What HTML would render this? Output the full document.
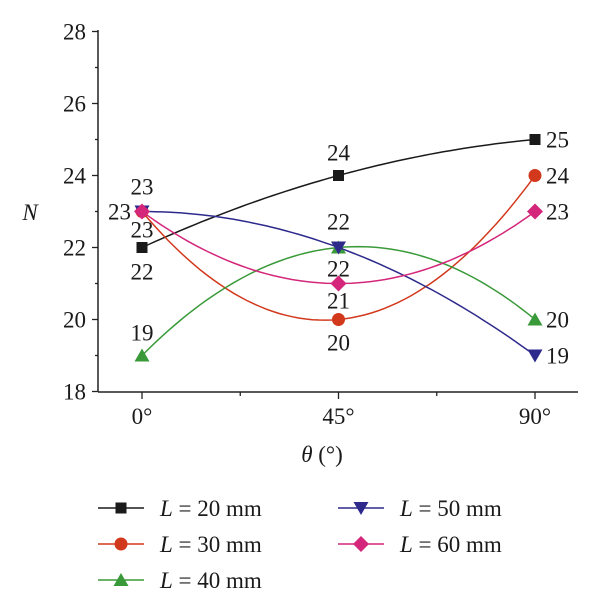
<!DOCTYPE html>
<html><head><meta charset="utf-8"><style>body{margin:0;background:#fff}svg{display:block}text{font-family:"Liberation Serif",serif;fill:#1a1a1a}</style></head>
<body>
<svg id="c" width="600" height="610"></svg>
<script>
const categories=[0,45,90];
const catLabels=["0°","45°","90°"];
const yTicks=[18,20,22,24,26,28];
const s20=[22,24,25];
const s30=[23,20,24];
const s40=[19,22,20];
const s50=[23,22,19];
const s60=[23,21,23];
const seriesNames=["L = 20 mm","L = 30 mm","L = 40 mm","L = 50 mm","L = 60 mm"];
const NS="http://www.w3.org/2000/svg";
const svg=document.getElementById('c');
function X(v){return 142+(v-0)*(535-142)/90;}
function Y(v){return 391.5-(v-18)*36;}
function el(t,a,p){const e=document.createElementNS(NS,t);for(const k in a)e.setAttribute(k,a[k]);(p||svg).appendChild(e);return e;}
let ax=el('line',{x1:98,y1:30,x2:98,y2:392,stroke:'#222','stroke-width':1.5});


let bx=el('line',{x1:98,y1:392,x2:578,y2:392,stroke:'#222','stroke-width':1.5});


for(let v=18;v<=28;v++){const maj=v%2===0;el('line',{x1:98,y1:Y(v),x2:maj?92:95,y2:Y(v),stroke:'#222','stroke-width':1.3});}
yTicks.forEach(v=>{const t=el('text',{x:86,y:Y(v)+8,'font-size':23,'text-anchor':'end'});t.textContent=v;

});
[0,22.5,45,67.5,90].forEach((v,i)=>{el('line',{x1:X(v),y1:392,x2:X(v),y2:i%2?396:399,stroke:'#222','stroke-width':1.3});});
categories.forEach((v,i)=>{const t=el('text',{x:X(v),y:424,'font-size':23,'text-anchor':'middle'});t.textContent=catLabels[i];

});
let yt=el('text',{x:30,y:220,'font-size':23,'font-style':'italic','text-anchor':'middle'});yt.textContent='N';


let xt=el('text',{x:322,y:462,'font-size':23,'text-anchor':'middle'});xt.innerHTML='<tspan font-style="italic">θ</tspan> (°)';


function marker(g,type,x,y,c){
 if(type==='sq')el('rect',{x:x-5.5,y:y-5.5,width:11,height:11,fill:c},g);
 else if(type==='ci')el('circle',{cx:x,cy:y,r:6.5,fill:c},g);
 else if(type==='up')el('polygon',{points:`${x},${y-7} ${x-7.5},${y+6} ${x+7.5},${y+6}`,fill:c},g);
 else if(type==='dn')el('polygon',{points:`${x},${y+7} ${x-7.5},${y-6} ${x+7.5},${y-6}`,fill:c},g);
 else el('polygon',{points:`${x},${y-8} ${x+8},${y} ${x},${y+8} ${x-8},${y}`,fill:c},g);
}
function curve(vals){
 const [x0,x1,x2]=categories;let d='';
 for(let i=0;i<=60;i++){const x=x0+(x2-x0)*i/60;
  const v=vals[0]*(x-x1)*(x-x2)/((x0-x1)*(x0-x2))+vals[1]*(x-x0)*(x-x2)/((x1-x0)*(x1-x2))+vals[2]*(x-x0)*(x-x1)/((x2-x0)*(x2-x1));
  d+=(i?'L':'M')+X(x).toFixed(1)+','+Y(v).toFixed(1);}
 return d;}
const series=[[s20,'#1a1a1a','sq','series-20mm'],[s30,'#d2381c','ci','series-30mm'],[s40,'#3a9a3a','up','series-40mm'],[s50,'#2e2a8c','dn','series-50mm'],[s60,'#d4267a','di','series-60mm']];
series.forEach(([vals,c,m,name])=>{
 const g=el('g',{});
 
 
 el('path',{d:curve(vals),fill:'none',stroke:c,'stroke-width':1.5},g);
 vals.forEach((v,i)=>marker(g,m,X(categories[i]),Y(v),c));
});
const labs=[[s20,0,0,32,'middle'],[s20,1,0,-15,'middle'],[s20,2,11,8,'start'],
[s30,0,0,26,'middle'],[s30,1,0,31,'middle'],[s30,2,11,8,'start'],
[s40,0,0,-15,'middle'],[s40,1,0,-18,'middle'],[s40,2,11,8,'start'],
[s50,0,-11,8,'end'],[s50,1,0,29,'middle'],[s50,2,11,8,'start'],
[s60,0,0,-17,'middle'],[s60,1,0,25,'middle'],[s60,2,11,8,'start']];
labs.forEach(([s,i,dx,dy,a])=>{const t=el('text',{x:X(categories[i])+dx,y:Y(s[i])+dy,'font-size':23,'text-anchor':a});t.textContent=s[i];

});
const lpos=[[98,508],[98,544],[98,580],[338,508],[338,544]];
series.forEach(([vals,c,m],i)=>{
 const [lx,ly]=lpos[i];const g=el('g',{});
 
 
 el('line',{x1:lx,y1:ly,x2:lx+46,y2:ly,stroke:c,'stroke-width':1.5},g);
 marker(g,m,lx+23,ly,c);
 const t=el('text',{x:lx+62,y:ly+8,'font-size':23},g);
 const n=seriesNames[i].split(' = ');
 t.innerHTML='<tspan font-style="italic">'+n[0]+'</tspan> = '+n[1];
});
</script>
</body></html>
